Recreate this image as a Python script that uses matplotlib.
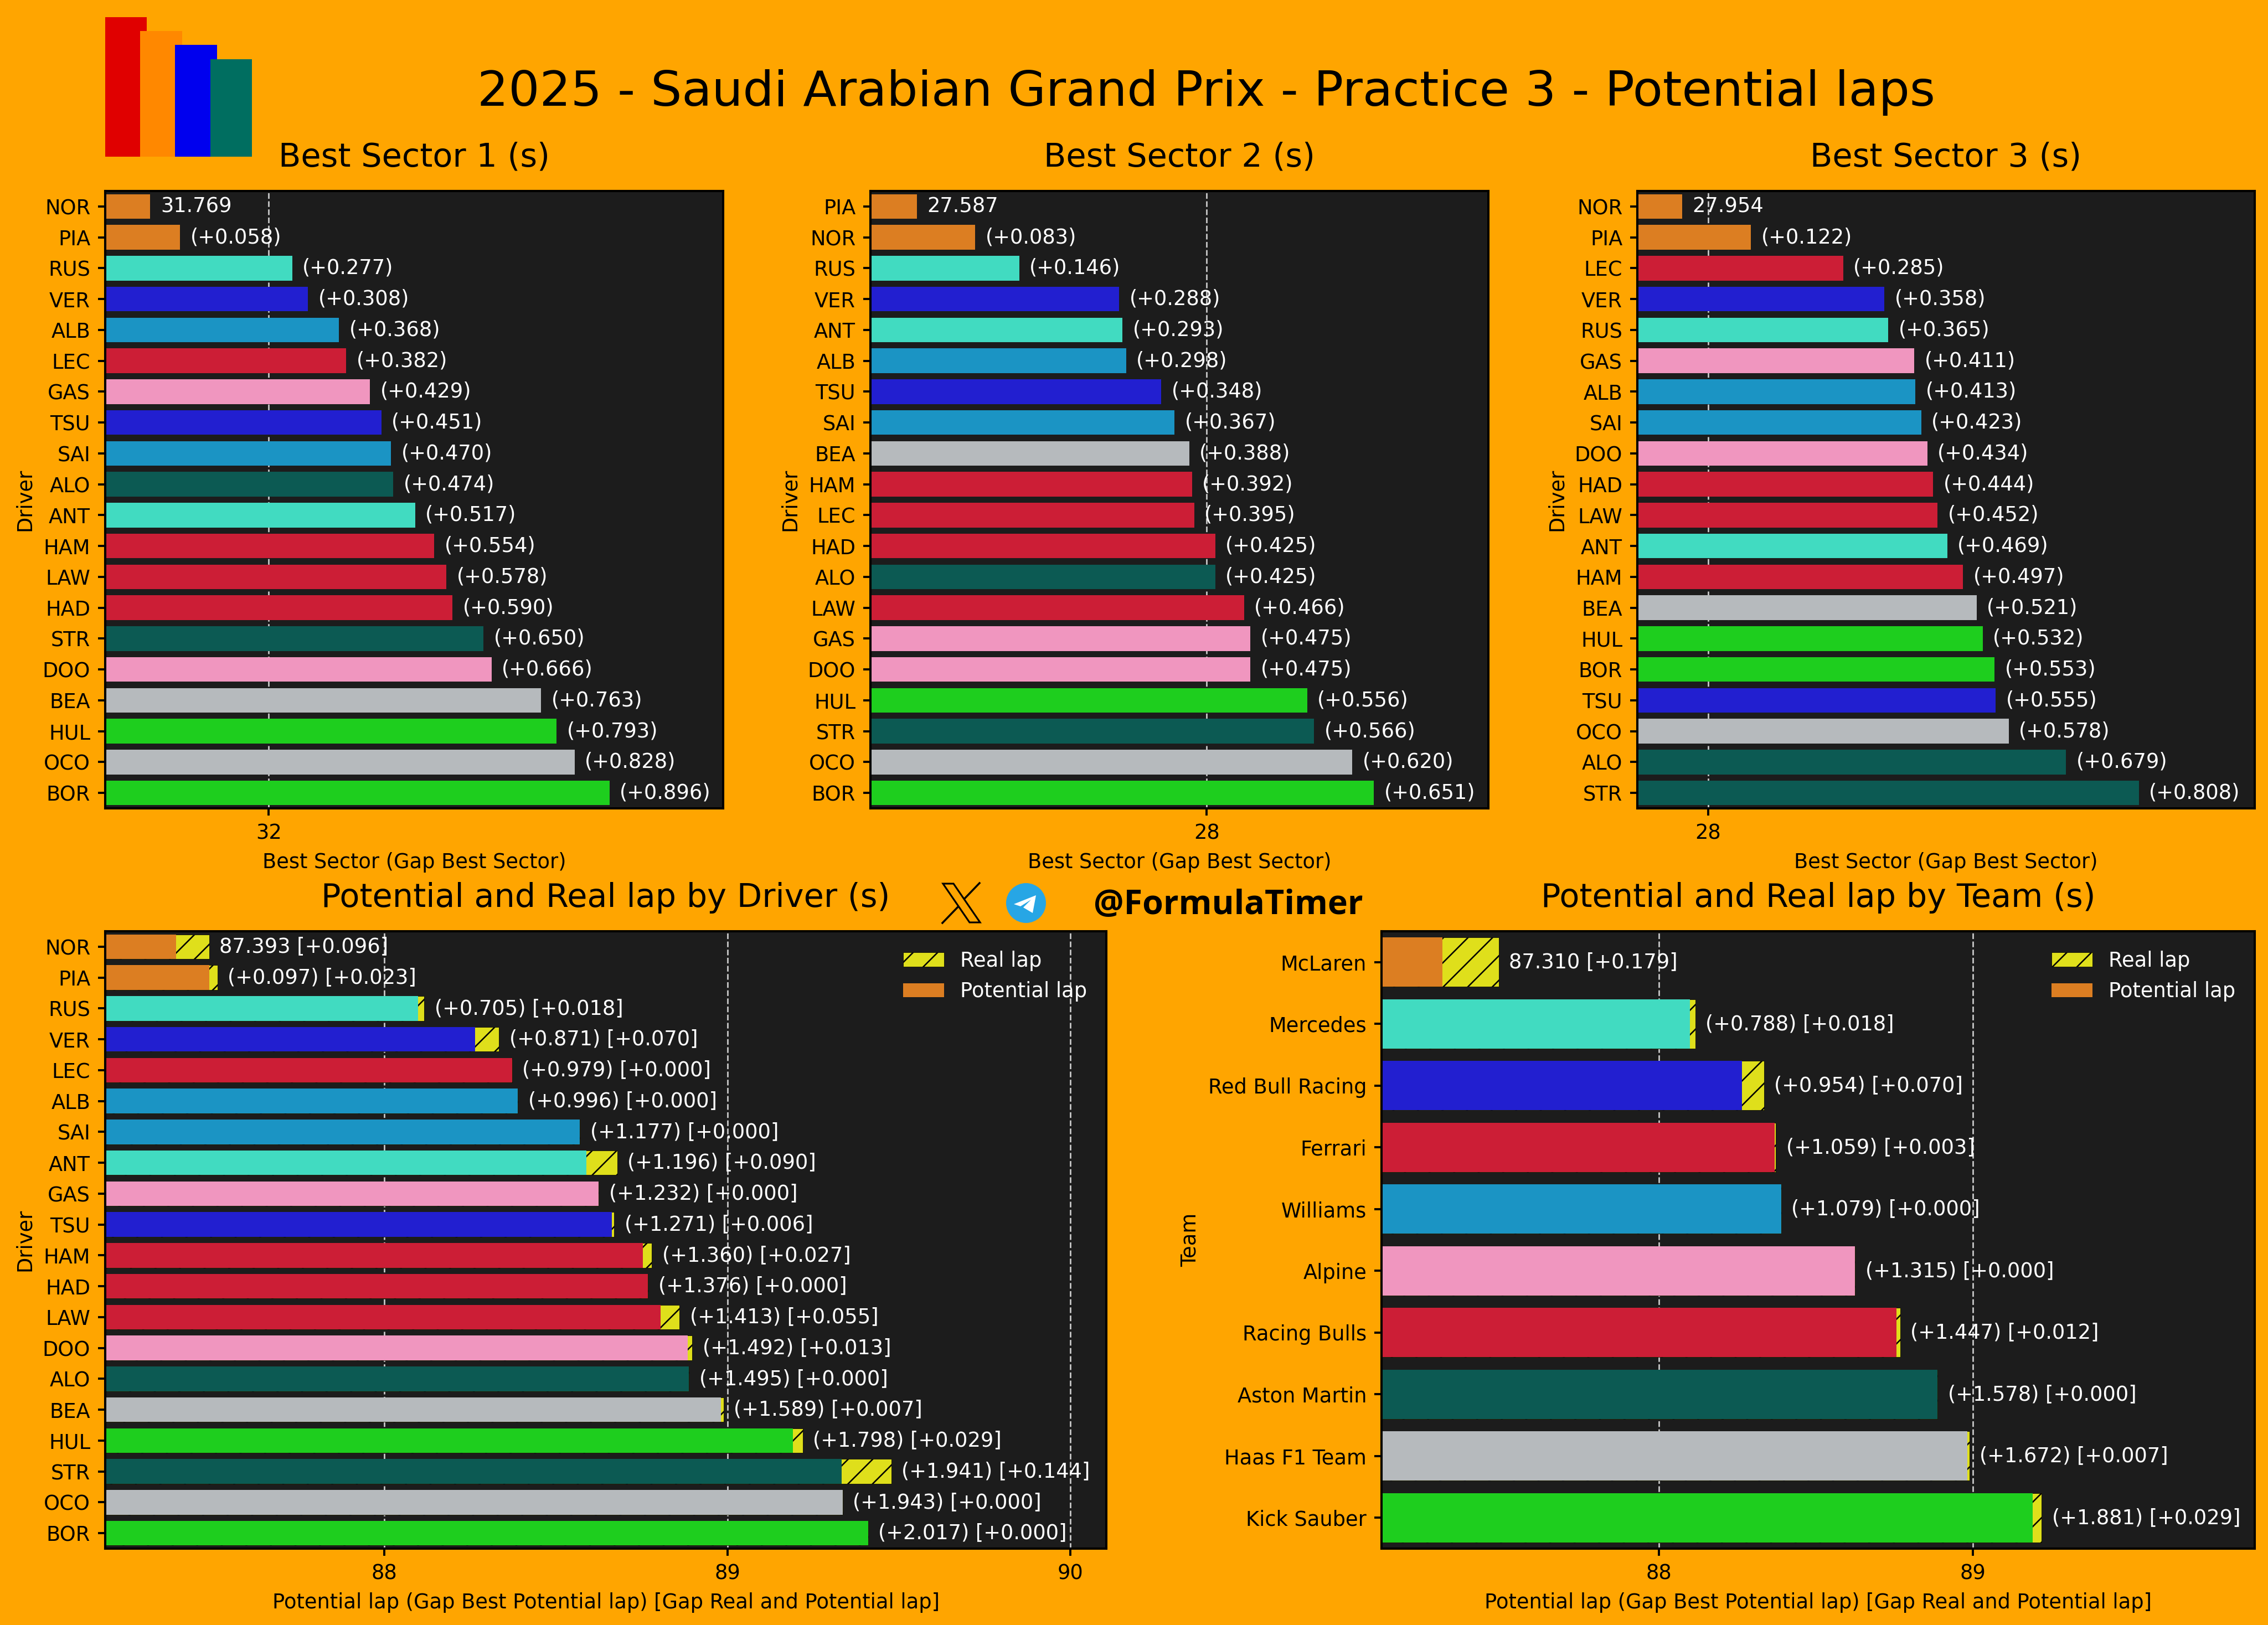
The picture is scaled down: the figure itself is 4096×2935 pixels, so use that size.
import matplotlib
matplotlib.use("Agg")
import matplotlib.pyplot as plt
import matplotlib.patches as patches
from matplotlib.ticker import MultipleLocator

FIG_W, FIG_H = 4096, 2935
DPI = 133
BG = "#FFA500"
AX_BG = "#1C1C1C"
YELLOW = "#DFDF1B"

colors = {
    "McLaren": "#DC7E22", "Mercedes": "#41DBC1", "Red Bull Racing": "#221FD0",
    "Ferrari": "#CC1E36", "Williams": "#1B94C4", "Alpine": "#F096BF",
    "Racing Bulls": "#CC1E36", "Aston Martin": "#0C5A53", "Haas F1 Team": "#B6BABD",
    "Kick Sauber": "#1ECE1E",
}
driver_team = {
    "NOR": "McLaren", "PIA": "McLaren", "RUS": "Mercedes", "ANT": "Mercedes",
    "VER": "Red Bull Racing", "TSU": "Red Bull Racing", "LEC": "Ferrari", "HAM": "Ferrari",
    "ALB": "Williams", "SAI": "Williams", "GAS": "Alpine", "DOO": "Alpine",
    "HAD": "Racing Bulls", "LAW": "Racing Bulls", "ALO": "Aston Martin", "STR": "Aston Martin",
    "BEA": "Haas F1 Team", "OCO": "Haas F1 Team", "HUL": "Kick Sauber", "BOR": "Kick Sauber",
}

s1_best = 31.769
s1_drivers = ["NOR", "PIA", "RUS", "VER", "ALB", "LEC", "GAS", "TSU", "SAI", "ALO",
              "ANT", "HAM", "LAW", "HAD", "STR", "DOO", "BEA", "HUL", "OCO", "BOR"]
s1_gaps = [0, 0.058, 0.277, 0.308, 0.368, 0.382, 0.429, 0.451, 0.470, 0.474,
           0.517, 0.554, 0.578, 0.590, 0.650, 0.666, 0.763, 0.793, 0.828, 0.896]

s2_best = 27.587
s2_drivers = ["PIA", "NOR", "RUS", "VER", "ANT", "ALB", "TSU", "SAI", "BEA", "HAM",
              "LEC", "HAD", "ALO", "LAW", "GAS", "DOO", "HUL", "STR", "OCO", "BOR"]
s2_gaps = [0, 0.083, 0.146, 0.288, 0.293, 0.298, 0.348, 0.367, 0.388, 0.392,
           0.395, 0.425, 0.425, 0.466, 0.475, 0.475, 0.556, 0.566, 0.620, 0.651]

s3_best = 27.954
s3_drivers = ["NOR", "PIA", "LEC", "VER", "RUS", "GAS", "ALB", "SAI", "DOO", "HAD",
              "LAW", "ANT", "HAM", "BEA", "HUL", "BOR", "TSU", "OCO", "ALO", "STR"]
s3_gaps = [0, 0.122, 0.285, 0.358, 0.365, 0.411, 0.413, 0.423, 0.434, 0.444,
           0.452, 0.469, 0.497, 0.521, 0.532, 0.553, 0.555, 0.578, 0.679, 0.808]

pot_best = 87.393
pot_drivers = ["NOR", "PIA", "RUS", "VER", "LEC", "ALB", "SAI", "ANT", "GAS", "TSU",
               "HAM", "HAD", "LAW", "DOO", "ALO", "BEA", "HUL", "STR", "OCO", "BOR"]
pot_gaps = [0, 0.097, 0.705, 0.871, 0.979, 0.996, 1.177, 1.196, 1.232, 1.271,
            1.360, 1.376, 1.413, 1.492, 1.495, 1.589, 1.798, 1.941, 1.943, 2.017]
real_gaps = [0.096, 0.023, 0.018, 0.070, 0.000, 0.000, 0.000, 0.090, 0.000, 0.006,
             0.027, 0.000, 0.055, 0.013, 0.000, 0.007, 0.029, 0.144, 0.000, 0.000]

team_best = 87.310
teams = ["McLaren", "Mercedes", "Red Bull Racing", "Ferrari", "Williams",
         "Alpine", "Racing Bulls", "Aston Martin", "Haas F1 Team", "Kick Sauber"]
team_gaps = [0, 0.788, 0.954, 1.059, 1.079, 1.315, 1.447, 1.578, 1.672, 1.881]
team_real_gaps = [0.179, 0.018, 0.070, 0.003, 0.000, 0.000, 0.012, 0.000, 0.007, 0.029]

logo_heights = [1.0, 0.9, 0.8, 0.7]
logo_colors = ["#E00000", "#FF8800", "#0000EE", "#006E60"]

plt.rcParams["font.family"] = "DejaVu Sans"
plt.rcParams["font.size"] = 19.9
plt.rcParams["hatch.linewidth"] = 1.4
plt.rcParams["axes.linewidth"] = 2.2

fig = plt.figure(figsize=(FIG_W / DPI, FIG_H / DPI), dpi=DPI, facecolor=BG)


def px_axes(x0, y0, x1, y1):
    # pixel box, measured from the top left of the picture
    return fig.add_axes([x0 / FIG_W, 1 - y1 / FIG_H, (x1 - x0) / FIG_W, (y1 - y0) / FIG_H])


def style_axes(ax, names, xlim, title, xlabel, ylabel):
    ax.set_facecolor(AX_BG)
    ax.set_xlim(*xlim)
    ax.set_ylim(len(names) - 0.5, -0.5)
    ax.set_yticks(range(len(names)))
    ax.set_yticklabels(names)
    ax.xaxis.set_major_locator(MultipleLocator(1))
    ax.tick_params(length=7, width=2.1, pad=7.5)
    ax.grid(axis="x", color="#C8C8C8", linestyle="--", linewidth=1.5)
    ax.set_axisbelow(True)
    ax.set_title(title, fontsize=31.9, pad=24)
    ax.set_xlabel(xlabel, labelpad=8)
    ax.set_ylabel(ylabel, labelpad=7.5)


def sector_panel(box, names, best, gaps, xlim, title):
    ax = px_axes(*box)
    values = [best + g for g in gaps]
    bar_colors = [colors[driver_team[n]] for n in names]
    ax.barh(range(len(names)), values, height=0.8, color=bar_colors, linewidth=0)
    for i, g in enumerate(gaps):
        label = f"{best:.3f}" if i == 0 else f"(+{g:.3f})"
        ax.annotate(label, (values[i], i), xytext=(10, 0), textcoords="offset points",
                    va="center", ha="left", color="white")
    style_axes(ax, names, xlim, title, "Best Sector (Gap Best Sector)", "Driver")
    return ax


def lap_panel(box, names, bar_colors, best, gaps, reals, xlim, title, ylabel):
    ax = px_axes(*box)
    pots = [best + g for g in gaps]
    lap = [p + r for p, r in zip(pots, reals)]
    y = range(len(names))
    ax.barh(y, lap, height=0.8, color=YELLOW, edgecolor="black", linewidth=0.4, hatch="/", label="Real lap")
    ax.barh(y, pots, height=0.8, color=bar_colors, linewidth=0)
    for i, g in enumerate(gaps):
        label = f"{best:.3f}" if i == 0 else f"(+{g:.3f})"
        ax.annotate(f"{label} [+{reals[i]:.3f}]", (lap[i], i), xytext=(10, 0), textcoords="offset points",
                    va="center", ha="left", color="white")
    style_axes(ax, names, xlim, title,
               "Potential lap (Gap Best Potential lap) [Gap Real and Potential lap]", ylabel)
    handles = [patches.Patch(facecolor=YELLOW, edgecolor="black", linewidth=0.4, hatch="/"),
               patches.Patch(facecolor=colors["McLaren"])]
    ax.legend(handles, ["Real lap", "Potential lap"], loc="upper right", frameon=False,
              labelcolor="white", borderaxespad=0.55)
    return ax


sector_panel((190, 345, 1306, 1460), s1_drivers, s1_best, s1_gaps, (31.681, 32.887), "Best Sector 1 (s)")
sector_panel((1572, 345, 2688, 1460), s2_drivers, s2_best, s2_gaps, (27.521, 28.401), "Best Sector 2 (s)")
sector_panel((2957, 345, 4072, 1460), s3_drivers, s3_best, s3_gaps, (27.875, 28.967), "Best Sector 3 (s)")

lap_panel((190, 1682, 1998, 2797), pot_drivers, [colors[driver_team[n]] for n in pot_drivers],
          pot_best, pot_gaps, real_gaps, (87.186, 90.105), "Potential and Real lap by Driver (s)", "Driver")
lap_panel((2495, 1682, 4072, 2797), teams, [colors[t] for t in teams],
          team_best, team_gaps, team_real_gaps, (87.115, 89.899), "Potential and Real lap by Team (s)", "Team")

fig.text(2179 / FIG_W, 1 - 167 / FIG_H, "2025 - Saudi Arabian Grand Prix - Practice 3 - Potential laps",
         fontsize=47.85, ha="center", va="center")

# logo bars
logo = px_axes(190, 31, 455, 283)
logo.bar(range(4), logo_heights, width=1.19, color=logo_colors, align="edge")
logo.set_xlim(0, 3 + 1.19)
logo.set_ylim(0, 1)
logo.axis("off")

# social icons, drawn in a pixel overlay
over = fig.add_axes([0, 0, 1, 1], facecolor="none")
over.set_xlim(0, FIG_W)
over.set_ylim(FIG_H, 0)
over.axis("off")
over.add_patch(patches.Polygon([(1703, 1596), (1722, 1596), (1770, 1666), (1751, 1666)],
                               closed=True, facecolor="none", edgecolor="black", linewidth=1.7))
over.plot([1769, 1742], [1595, 1623], color="black", linewidth=1.9)
over.plot([1730, 1702], [1638, 1667], color="black", linewidth=1.9)
over.add_patch(patches.Circle((1853, 1631), 36, facecolor="#27A6E5", edgecolor="none"))
over.add_patch(patches.Polygon([(1831, 1633), (1871, 1617), (1865, 1649), (1848, 1639), (1862, 1625), (1843, 1637)],
                               closed=True, facecolor="white", edgecolor="none"))
fig.text(1975 / FIG_W, 1 - 1636 / FIG_H, "@FormulaTimer", fontsize=33, fontweight="bold",
         family="Open Sans", ha="left", va="center")

fig.savefig("out.png", dpi=DPI, facecolor=BG)
